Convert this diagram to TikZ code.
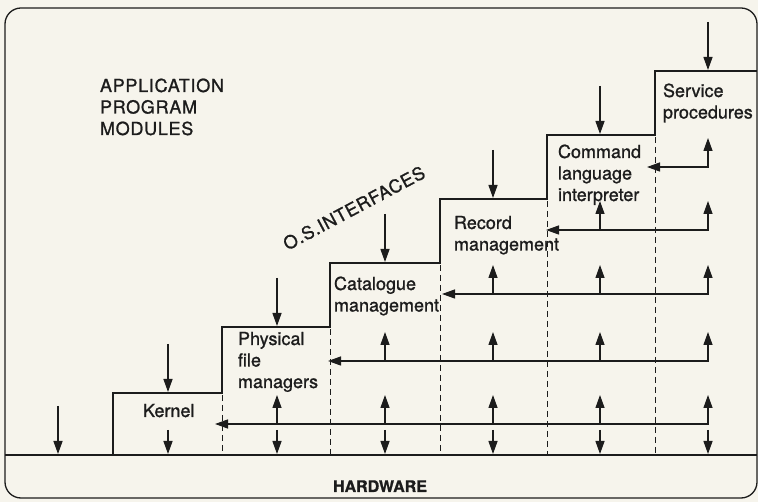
\documentclass[tikz,border=0pt]{standalone}
\usepackage{fontspec}
\setmainfont[FakeBold=1.1]{TeX Gyre Heros}
\newfontfamily\capsfont[FakeBold=1.1,LetterSpace=4]{TeX Gyre Heros}
\usetikzlibrary{arrows.meta,calc}
\definecolor{paper}{RGB}{246,244,236}
\definecolor{ink}{RGB}{28,28,28}
\begin{document}
\begin{tikzpicture}[x=1pt,y=-1pt,
  every node/.style={inner sep=0pt, outer sep=0pt, text=ink},
  frame/.style={draw=ink, line width=1.3pt, rounded corners=16pt},
  stair/.style={draw=ink, line width=2.5pt, line join=miter},
  divider/.style={draw=ink, line width=1pt, dash pattern=on 6pt off 4pt},
  tip/.tip={Triangle[length=13pt,width=9pt]},
  flow/.style={draw=ink, line width=1.3pt, -tip},
  twoway/.style={draw=ink, line width=1.3pt, tip-tip},
  module/.style={font=\fontsize{18}{21.5}\selectfont, align=left, anchor=base west},
  caps/.style={font=\capsfont\fontsize{18}{21.5}\selectfont, align=left},
  hw/.style={font=\fontsize{16}{19}\selectfont\bfseries, anchor=base}
]
\useasboundingbox (0,0) rectangle (758,502);
\fill[paper] (0,0) rectangle (758,502);

% outer frame
\draw[frame] (5,8) rectangle (757,498);

% hardware base line and the staircase of layers
\draw[stair] (5,455) -- (757,455);
\draw[stair] (113,455) -- (113,393) -- (222,393) -- (222,327) -- (330,327)
  -- (330,263) -- (440,263) -- (440,199) -- (547,199) -- (547,135)
  -- (655,135) -- (655,71) -- (757,71);

% column centres
\foreach \x [count=\k from 0] in {58,168,277,385,493,600,708}
  \coordinate (c\k) at (\x,0);

% dashed boundaries between modules
\foreach \e/\t in {222/393,330/327,440/263,547/199,655/135}
  \draw[divider] (\e,\t+2) -- (\e,454);

% calls arriving at the top of each layer
\foreach \t [count=\k from 0] in {455,393,327,263,199,135,71} {
  \coordinate (src\k) at ($(c\k)+(0,\t-49)$);
  \coordinate (dst\k) at ($(c\k)+(0,\t-1)$);
  \draw[flow] (src\k) -- (dst\k);
}

% calls from each layer down to the hardware
\foreach \k in {1,...,6}
  \draw[flow] ($(c\k)+(0,430)$) -- ($(c\k)+(0,454)$);

% calls from higher layers back down to each module
\foreach \r/\e/\first in {424/215/2,361/328/3,294/442/4,230/546/5,167/647/6} {
  \draw[twoway] ($(c6)+(0,\r-29)$) -- ($(c6)+(0,\r)$) -- (\e,\r);
  \ifnum\first<6
    \foreach \j in {\first,...,5}
      \draw[flow] ($(c\j)+(0,\r)$) -- ($(c\j)+(0,\r-29)$);
  \fi
}

% labels (a multi-line node sits on the baseline of its last line)
\node[caps, anchor=base west] (apm) at (100,135) {APPLICATION\\PROGRAM\\MODULES};
\node[caps, rotate=28] (osi) at (354,208) {O.S.INTERFACES};
\node[module] (kernel) at (143,417) {Kernel};
\node[module] (pfm) at (238,388) {Physical\\file\\managers};
\node[module] (cat) at (334,311.5) {Catalogue\\management};
\node[module] (rec) at (454,250.5) {Record\\management};
\node[module] (cli) at (558,201) {Command\\language\\interpreter};
\node[module] (svc) at (663,118.5) {Service\\procedures};
\node[hw] (hardware) at (380,492) {HARDWARE};
\end{tikzpicture}
\end{document}
